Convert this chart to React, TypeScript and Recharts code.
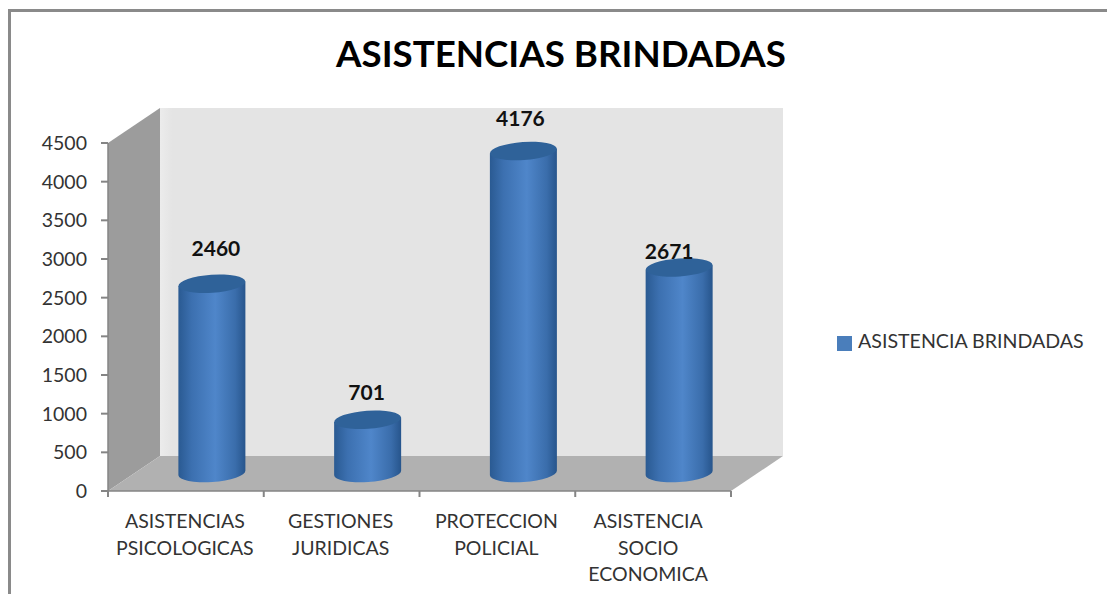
import React from "react";
import { BarChart, Bar, XAxis, YAxis, Legend, LabelList, ReferenceArea } from "recharts";

const categories = [
  "ASISTENCIAS PSICOLOGICAS",
  "GESTIONES JURIDICAS",
  "PROTECCION POLICIAL",
  "ASISTENCIA SOCIO ECONOMICA",
];
const values = [2460, 701, 4176, 2671];
const yTicks = [0, 500, 1000, 1500, 2000, 2500, 3000, 3500, 4000, 4500];
const seriesName = "ASISTENCIA BRINDADAS";

const data = categories.map((name, i) => ({ name, value: values[i] }));

const FONT = "Lato, sans-serif";
// depth of the fake 3d box
const DEPTH_X = 52;
const DEPTH_Y = 35;
const AXIS_COLOR = "#858585";

function Walls({ x, y, width, height }: any) {
  const r = x + width;
  const b = y + height;
  return (
    <g>
      <rect x={x + DEPTH_X} y={y - DEPTH_Y} width={width} height={height} fill="url(#wallFill)" />
      <polygon
        points={`${x},${y} ${x + DEPTH_X},${y - DEPTH_Y} ${x + DEPTH_X},${b - DEPTH_Y} ${x},${b}`}
        fill="#9c9c9c"
      />
      <polygon
        points={`${x},${b} ${x + DEPTH_X},${b - DEPTH_Y} ${r + DEPTH_X},${b - DEPTH_Y} ${r},${b}`}
        fill="#b1b1b1"
      />
    </g>
  );
}

function Cylinder({ x, y, width, height }: any) {
  // bars sit halfway into the box
  const left = x + DEPTH_X / 2;
  const right = left + width;
  const cx = left + width / 2;
  const top = y - 17;
  const base = top + height - 1;
  const rx = width / 2;
  const ry = 9;
  const tilt = 2.3;
  return (
    <g>
      <path
        d={`M${left},${top + tilt} L${left},${base + tilt} A${rx},${ry} -4 0 0 ${right},${base - tilt} L${right},${top - tilt} Z`}
        fill="url(#cylFill)"
      />
      <ellipse cx={cx} cy={top} rx={rx} ry={ry} fill="#2f6299" transform={`rotate(-4 ${cx} ${top})`} />
    </g>
  );
}

// hand placed offsets of the value labels, they don't follow the bars evenly
const labelNudge = [
  [4, -35],
  [-1, -27],
  [-3, -32],
  [-10, -16],
];

function ValueLabel({ x, y, width, value, index }: any) {
  return (
    <text
      x={x + width / 2 + DEPTH_X / 2 + labelNudge[index][0]}
      y={y - 15 + labelNudge[index][1]}
      textAnchor="middle"
      dominantBaseline="middle"
      fontFamily={FONT}
      fontWeight={700}
      fontSize={21}
      fill="#111"
    >
      {value}
    </text>
  );
}

function CategoryTick({ x, y, payload, index }: any) {
  const band = 155.75;
  const lines = String(payload.value).split(" ");
  // the last label sits a bit left of its band in the original
  const labelX = index === categories.length - 1 ? x - 5 : x - 1;
  return (
    <g>
      <line x1={x - band / 2} x2={x - band / 2} y1={y - 8} y2={y - 2} stroke={AXIS_COLOR} strokeWidth={2} />
      {index === categories.length - 1 && (
        <line x1={x + band / 2} x2={x + band / 2} y1={y - 8} y2={y - 2} stroke={AXIS_COLOR} strokeWidth={2} />
      )}
      <text x={labelX} y={y} textAnchor="middle" fontFamily={FONT} fontSize={19.5} fill="#333">
        {lines.map((line, i) => (
          <tspan key={i} x={labelX} y={y + 29 + i * 26.5}>
            {line}
          </tspan>
        ))}
      </text>
    </g>
  );
}

export default function App() {
  return (
    <div style={{ position: "absolute", left: 0, top: 0, width: 1107, height: 594, background: "#fff", overflow: "hidden" }}>
      <div style={{ position: "absolute", left: 8, top: 9, width: 1120, height: 620, border: "3px solid #8a8a8a" }} />
      <BarChart
        width={1107}
        height={594}
        data={data}
        margin={{ top: 143, right: 376, bottom: -24, left: 0 }}
        barCategoryGap="28.5%"
        style={{ position: "absolute", left: 0, top: 0 }}
      >
        <defs>
          <linearGradient id="wallFill" x1="0" x2="1" y1="0" y2="0">
            <stop offset="0" stopColor="#ececec" />
            <stop offset="0.02" stopColor="#e4e4e4" />
            <stop offset="1" stopColor="#e4e4e4" />
          </linearGradient>
          <linearGradient id="cylFill" x1="0" x2="1" y1="0" y2="0">
            <stop offset="0" stopColor="#2a5a92" />
            <stop offset="0.2" stopColor="#3c70b0" />
            <stop offset="0.55" stopColor="#4f86ca" />
            <stop offset="0.85" stopColor="#3a6dab" />
            <stop offset="1" stopColor="#27558c" />
          </linearGradient>
        </defs>
        <text x={561} y={58} textAnchor="middle" dominantBaseline="middle" fontFamily={FONT} fontWeight={700} fontSize={36.7} fill="#000">
          ASISTENCIAS BRINDADAS
        </text>
        <ReferenceArea y1={0} y2={4500} shape={Walls} ifOverflow="visible" />
        <XAxis
          dataKey="name"
          interval={0}
          tickLine={false}
          axisLine={{ stroke: AXIS_COLOR, strokeWidth: 1.5 }}
          tick={CategoryTick}
          height={104}
        />
        <YAxis
          domain={[0, 4500]}
          ticks={yTicks}
          interval={0}
          width={108}
          tickSize={7}
          tickMargin={14}
          axisLine={{ stroke: AXIS_COLOR, strokeWidth: 1.5 }}
          tickLine={{ stroke: AXIS_COLOR, strokeWidth: 2 }}
          tick={{ fontFamily: FONT, fontSize: 19.5, fill: "#333" }}
        />
        <Legend
          layout="vertical"
          iconType="square"
          iconSize={15}
          wrapperStyle={{ position: "absolute", left: 837, top: 329, width: 270, fontFamily: FONT, fontSize: 19.6 }}
          formatter={(v) => <span style={{ color: "#333", marginLeft: 2 }}>{v}</span>}
        />
        <Bar dataKey="value" name={seriesName} fill="#4a7ebb" shape={Cylinder} isAnimationActive={false}>
          <LabelList dataKey="value" content={ValueLabel} />
        </Bar>
      </BarChart>
    </div>
  );
}
